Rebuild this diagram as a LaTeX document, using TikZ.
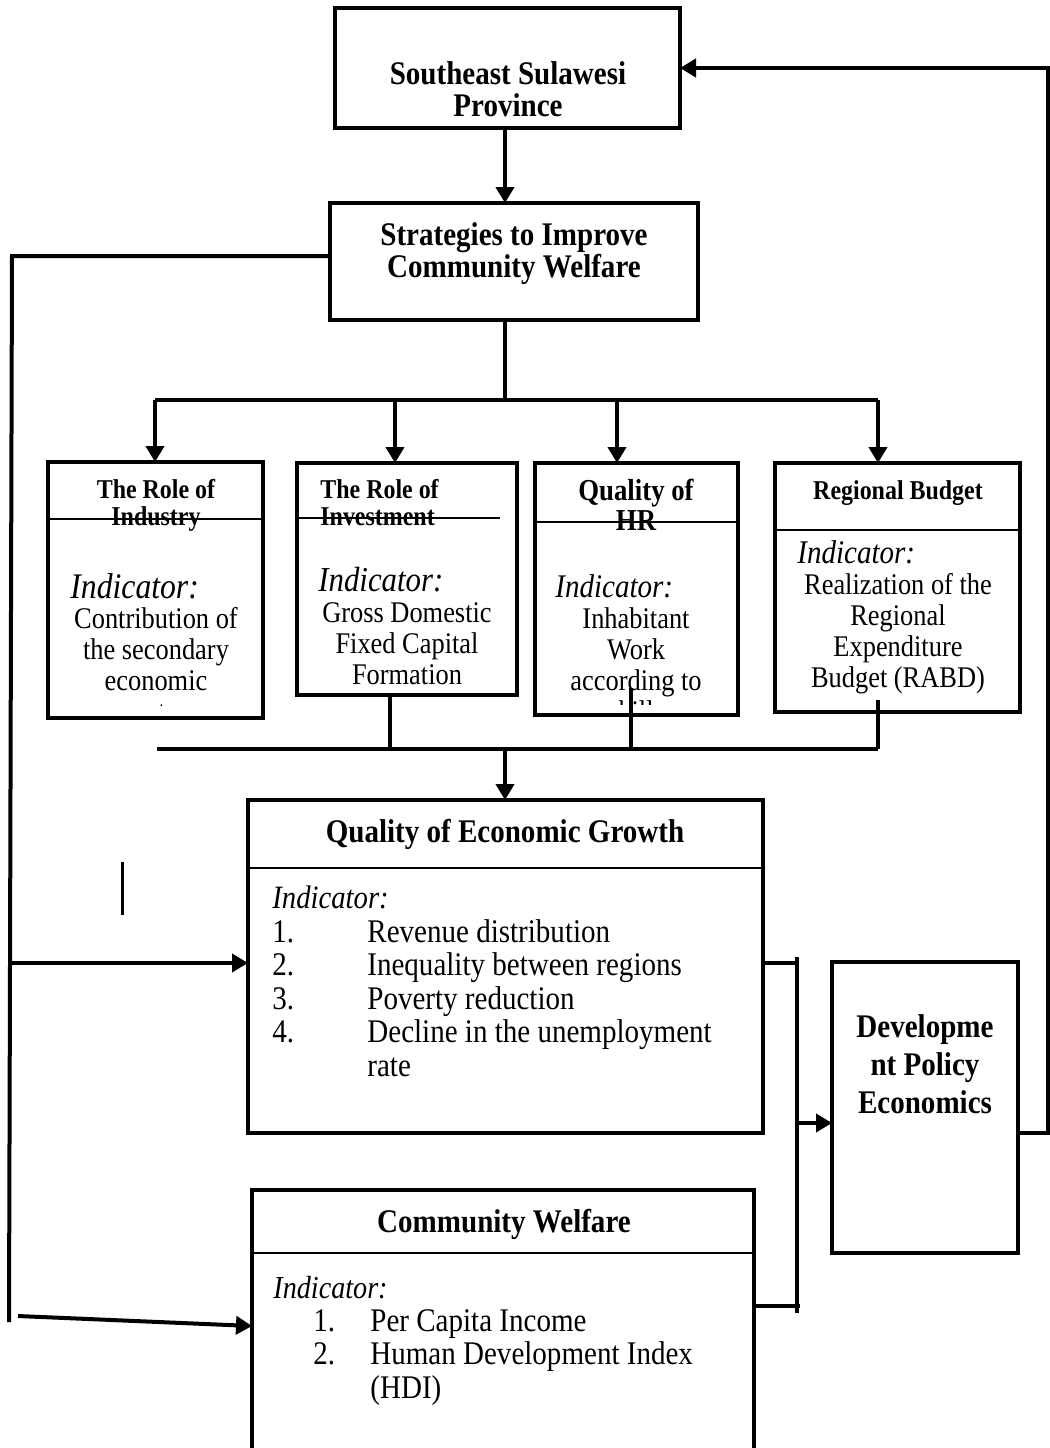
\documentclass[tikz,border=0pt]{standalone}
\usepackage{fontspec}
\setmainfont{Liberation Serif}[FakeStretch=0.88]
\usetikzlibrary{arrows.meta}
\newcommand\fTitle{\fontsize{16.5}{16}\selectfont\bfseries}
\newcommand\fDpe{\fontsize{16.5}{19}\selectfont\bfseries}
\newcommand\fBody{\fontsize{16.5}{16.75}\selectfont}
\newcommand\fSmall{\fontsize{15}{15.5}\selectfont}
\newcommand\fSmT{\fontsize{13.6}{13.5}\selectfont\bfseries}
\newcommand\fHrT{\fontsize{15.2}{15}\selectfont\bfseries}
\begin{document}
\begin{tikzpicture}[x=0.5pt,y=-0.5pt,
  box/.style={draw, line width=2pt, inner sep=0pt, outer sep=0pt},
  conn/.style={line width=2pt},
  arr/.style={line width=2pt, -{Triangle[length=8pt,width=9pt]}},
  divl/.style={line width=1pt},
  txt/.style={inner sep=0pt, align=center, anchor=base},
  ltxt/.style={inner sep=0pt, align=left, anchor=base west},
  ind/.style={font=\fontsize{#1}{#1}\selectfont\itshape, inner sep=0pt, anchor=base west}]
\fill[white] (0,0) rectangle (1050,1448);
\useasboundingbox (0,0) rectangle (1050,1448);

% ---------- boxes ----------
\node[box, minimum width=172.5pt, minimum height=60pt] (prov) at (507.5,68) {};
\node[box, minimum width=184pt, minimum height=58.5pt] (strat) at (514,261.5) {};
\node[box, minimum width=107.5pt, minimum height=128pt] (indb) at (155.5,590) {};
\node[box, minimum width=110pt, minimum height=116pt] (inv) at (407,579) {};
\node[box, minimum width=101.5pt, minimum height=126pt] (hr) at (636.5,589) {};
\node[box, minimum width=122.5pt, minimum height=124.5pt] (rb) at (897.5,587.5) {};
\node[box, minimum width=257.5pt, minimum height=166.5pt] (qeg) at (505.5,966.5) {};
\node[box, minimum width=93pt, minimum height=145.5pt] (dpe) at (925,1107.5) {};
\node[inner sep=0pt, outer sep=0pt, minimum width=251pt, minimum height=129pt] (cw) at (503,1319) {};
\draw[line width=2pt] (cw.south west) |- (cw.north east) -- (cw.south east);

% ---------- texts (multi-line nodes: base = last line) ----------
\node[txt, font=\fTitle] (provt) at (508,116) {Southeast Sulawesi\\Province};
\node[txt, font=\fTitle] (stratt) at (514,277) {Strategies to Improve\\Community Welfare};

% Role of Industry
\node[txt, font=\fSmT] (indt) at (156,525) {The Role of\\Industry};
\draw[divl] (indb.west |- 0,519) -- (indb.east |- 0,519);
\node[ind=18] (indi) at (70,598) {Indicator:};
\begin{scope}
\clip ([yshift=6.5pt]indb.south west) rectangle (indb.north east);
\node[txt, font=\fSmall] (indx) at (156,721) {Contribution of\\the secondary\\economic\\sector};
\end{scope}

% Role of Investment
\node[ltxt, font=\fSmT] (invt) at (320,525) {The Role of\\Investment};
\draw[divl] (inv.west |- 0,518) -- (500,518);
\node[ind=17.5] (invi) at (318,591) {Indicator:};
\node[txt, font=\fSmall] (invx) at (407,684) {Gross Domestic\\Fixed Capital\\Formation};

% Quality of HR
\node[txt, font=\fHrT] (hrt) at (636,530) {Quality of\\HR};
\draw[divl] (hr.west |- 0,522) -- (hr.east |- 0,522);
\node[ind=16.5] (hri) at (555,597) {Indicator:};
\begin{scope}
\clip ([yshift=5.5pt]hr.south west) rectangle (hr.north east);
\node[txt, font=\fSmall] (hrx) at (636,721) {Inhabitant\\Work\\according to\\skills};
\end{scope}

% Regional Budget
\node[txt, font=\fSmT] (rbt) at (898,499) {Regional Budget};
\draw[divl] (rb.west |- 0,530) -- (rb.east |- 0,530);
\node[ind=16.5] (rbi) at (797,563) {Indicator:};
\node[txt, font=\fSmall] (rbx) at (898,687) {Realization of the\\Regional\\Expenditure\\Budget (RABD)};

% Quality of Economic Growth
\node[txt, font=\fTitle] (qegt) at (505,842) {Quality of Economic Growth};
\draw[divl] (qeg.west |- 0,868) -- (qeg.east |- 0,868);
\node[ind=16.3] (qegi) at (272,908) {Indicator:};
\node[ltxt, font=\fBody] (qegx) at (272,1076) {\makebox[47.5pt][l]{1.}Revenue distribution\\
\makebox[47.5pt][l]{2.}Inequality between regions\\
\makebox[47.5pt][l]{3.}Poverty reduction\\
\makebox[47.5pt][l]{4.}Decline in the unemployment\\
\hspace*{47.5pt}rate};

% Development Policy Economics
\node[txt, font=\fDpe] (dpet) at (925,1113) {Developme\\nt Policy\\Economics};

% Community Welfare
\node[txt, font=\fTitle] (cwt) at (504,1232) {Community Welfare};
\draw[divl] (cw.west |- 0,1253) -- (cw.east |- 0,1253);
\node[ind=16] (cwi) at (273,1298) {Indicator:};
\node[ltxt, font=\fBody] (cwx) at (313,1398) {\makebox[28.5pt][l]{1.}Per Capita Income\\
\makebox[28.5pt][l]{2.}Human Development Index\\
\hspace*{28.5pt}(HDI)};

% ---------- junction coordinates ----------
\coordinate (bt) at (505,400);
\coordinate (b1) at (155,400);
\coordinate (b2) at (395,400);
\coordinate (b3) at (617,400);
\coordinate (b4) at (878,400);
\coordinate (lb1) at (157,749);
\coordinate (lb2) at (390,749);
\coordinate (lb3) at (631,749);
\coordinate (lb4) at (878,749);
\coordinate (lbm) at (505,749);
\coordinate (L1) at (12,256);
\coordinate (L2) at (9,1322);
\coordinate (L3) at (18,1316);
\coordinate (cwin) at (252,1326);
\coordinate (R1) at (797,963);
\coordinate (Rt) at (797,957);
\coordinate (Rb) at (797,1313);
\coordinate (R2) at (800,1306);
\coordinate (R3) at (797,1123);
\coordinate (F1) at (1048,1133);
\coordinate (F2) at (1048,68);

% ---------- connectors ----------
\draw[arr] (prov.south -| bt) -- (strat.north -| bt);
\draw[conn] (strat.south -| bt) -- (bt);
\draw[conn] (b1) -- (b4);
\draw[arr] (b1) -- (b1 |- indb.north);
\draw[arr] (b2) -- (b2 |- inv.north);
\draw[arr] (b3) -- (b3 |- hr.north);
\draw[arr] (b4) -- (b4 |- rb.north);

\draw[conn] (lb1) -- (lb4);
\draw[conn] (lb2 |- inv.south) -- (lb2);
\draw[conn] (631,688) -- (lb3);
\draw[conn] (878,700) -- (lb4);
\draw[arr] (lbm) -- (lbm |- qeg.north);

\draw[conn] (strat.west |- L1) -- (L1) -- (L2);
\draw[arr] (L1 |- R1) -- (qeg.west |- R1);
\draw[arr] (L3) -- (cwin);

\draw[line width=1.5pt] (122,862) -- (122,915);

\draw[conn] (qeg.east |- R1) -- (R1);
\draw[conn] (Rt) -- (Rb);
\draw[conn] (cw.east |- R2) -- (R2);
\draw[arr] (R3) -- (dpe.west |- R3);

\draw[arr] (dpe.east |- F1) -- (F1) -- (F2) -- (prov.east |- F2);
\end{tikzpicture}
\end{document}
